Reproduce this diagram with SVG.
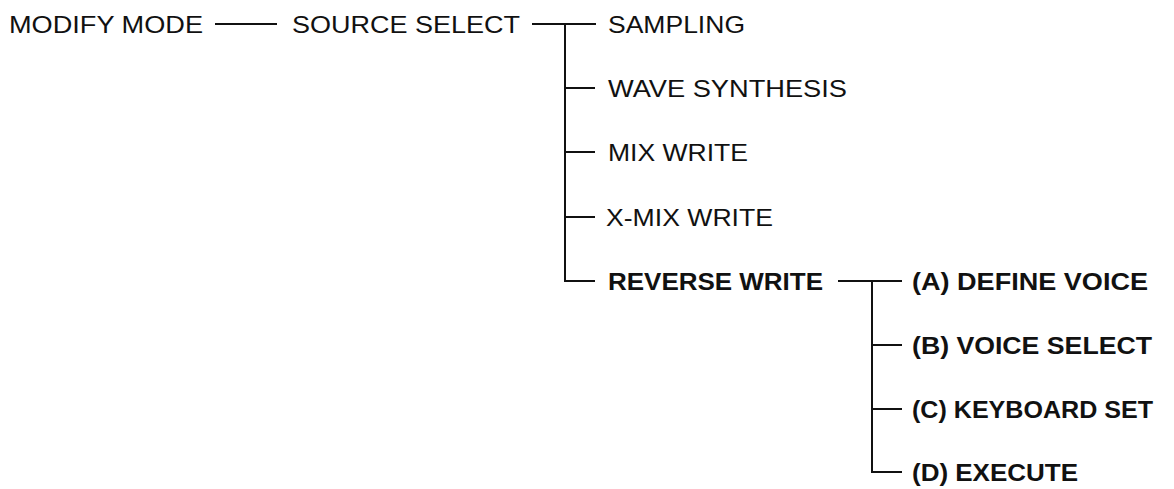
<svg xmlns="http://www.w3.org/2000/svg" width="1174" height="489" viewBox="0 0 1174 489">
<style>
text{font-family:"Liberation Sans",Arial,Helvetica,sans-serif;font-size:24px;fill:#111}
.b{font-weight:bold}
.c{stroke:#111;stroke-width:2;fill:none}
</style>
<rect width="1174" height="489" fill="#fff"/>
<g id="connectors" class="c">
<path d="M215 24H277"/>
<path d="M532 24H596M565 24V281H595M565 88H595M565 152H595M565 217H595"/>
<path d="M838 281H902M872 281V472H902M872 345H902M872 409H902"/>
</g>
<g id="n-modify"><text x="9" y="33" textLength="194" lengthAdjust="spacingAndGlyphs">MODIFY MODE</text></g>
<g id="n-source"><text x="292" y="33" textLength="228" lengthAdjust="spacingAndGlyphs">SOURCE SELECT</text></g>
<g id="n-sampling"><text x="608" y="33" textLength="137" lengthAdjust="spacingAndGlyphs">SAMPLING</text></g>
<g id="n-wave"><text x="608" y="97" textLength="239" lengthAdjust="spacingAndGlyphs">WAVE SYNTHESIS</text></g>
<g id="n-mix"><text x="608" y="161" textLength="140" lengthAdjust="spacingAndGlyphs">MIX WRITE</text></g>
<g id="n-xmix"><text x="606" y="226" textLength="167" lengthAdjust="spacingAndGlyphs">X-MIX WRITE</text></g>
<g id="n-reverse"><text class="b" x="608" y="290" textLength="215" lengthAdjust="spacingAndGlyphs">REVERSE WRITE</text></g>
<g id="n-a"><text class="b" x="912" y="290" textLength="236" lengthAdjust="spacingAndGlyphs">(A) DEFINE VOICE</text></g>
<g id="n-b"><text class="b" x="912" y="354" textLength="240" lengthAdjust="spacingAndGlyphs">(B) VOICE SELECT</text></g>
<g id="n-c"><text class="b" x="912" y="418" textLength="241" lengthAdjust="spacingAndGlyphs">(C) KEYBOARD SET</text></g>
<g id="n-d"><text class="b" x="912" y="481" textLength="166" lengthAdjust="spacingAndGlyphs">(D) EXECUTE</text></g>
</svg>
